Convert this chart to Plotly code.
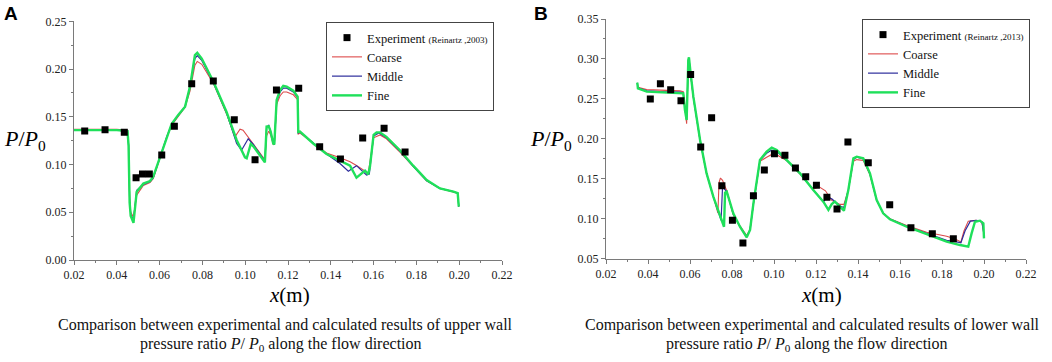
import plotly.graph_objects as go

# ---------------- Panel A (upper wall) ----------------
a_exp_x = [0.025, 0.0345, 0.0435, 0.049, 0.052, 0.0552, 0.061, 0.0669, 0.075, 0.0851, 0.0949,
           0.1046, 0.1146, 0.125, 0.1348, 0.1445, 0.1549, 0.1649, 0.1747]
a_exp_y = [0.135, 0.1365, 0.1337, 0.0862, 0.090, 0.090, 0.110, 0.140, 0.1847, 0.1875, 0.147,
           0.105, 0.178, 0.180, 0.1187, 0.1058, 0.1278, 0.138, 0.1131]

a_fine_x = [0.020, 0.030, 0.040, 0.0450, 0.0455, 0.0460, 0.0465, 0.0478, 0.0493, 0.0524, 0.0555,
            0.0570, 0.0602, 0.0633, 0.0656, 0.0687, 0.0719, 0.0742, 0.0765, 0.0776, 0.0797, 0.0851,
            0.0913, 0.0960, 0.0999, 0.1007, 0.1026, 0.1038, 0.1085, 0.1092, 0.1100, 0.1110, 0.1119,
            0.1131, 0.1136, 0.1147, 0.1163, 0.1178, 0.1194, 0.1225, 0.1245, 0.1248, 0.1256, 0.1318,
            0.1380, 0.1443, 0.1490, 0.1520, 0.1544, 0.1560, 0.1575, 0.1583, 0.1600, 0.1614, 0.1630,
            0.1660, 0.1723, 0.1785, 0.1848, 0.1910, 0.1973, 0.1993, 0.1998]
a_fine_y = [0.136, 0.136, 0.136, 0.135, 0.120, 0.060, 0.046, 0.039, 0.0716, 0.080, 0.0827,
            0.087, 0.108, 0.129, 0.1425, 0.152, 0.1606, 0.1816, 0.2147, 0.217, 0.211, 0.187,
            0.155, 0.1257, 0.1075, 0.1065, 0.1215, 0.119, 0.105, 0.1023, 0.1397, 0.140, 0.1344,
            0.122, 0.121, 0.1676, 0.178, 0.1823, 0.1816, 0.1774, 0.171, 0.134, 0.1344, 0.122,
            0.111, 0.104, 0.0988, 0.0862, 0.0908, 0.0936, 0.0897, 0.0978, 0.131, 0.1337, 0.1337,
            0.129, 0.115, 0.0988, 0.0838, 0.075, 0.0716, 0.070, 0.0559]

a_mid_x = [0.020, 0.030, 0.040, 0.0450, 0.0455, 0.0460, 0.0465, 0.0478, 0.0493, 0.0524, 0.0555,
           0.0570, 0.0602, 0.0633, 0.0656, 0.0687, 0.0719, 0.0742, 0.0765, 0.0776, 0.0797, 0.0851,
           0.0913, 0.0960, 0.0983, 0.1014, 0.1038, 0.1085, 0.1092, 0.1100, 0.1110, 0.1119,
           0.1131, 0.1136, 0.1147, 0.1163, 0.1178, 0.1194, 0.1225, 0.1245, 0.1248, 0.1256, 0.1318,
           0.1380, 0.1443, 0.1482, 0.1520, 0.1567, 0.1580, 0.1600, 0.1625, 0.1660, 0.1723, 0.1785,
           0.1848, 0.1910, 0.1973, 0.1993, 0.1998]
a_mid_y = [0.136, 0.136, 0.136, 0.135, 0.120, 0.062, 0.048, 0.042, 0.073, 0.079, 0.082,
           0.086, 0.108, 0.129, 0.142, 0.152, 0.161, 0.181, 0.211, 0.214, 0.209, 0.186,
           0.154, 0.122, 0.115, 0.127, 0.121, 0.106, 0.104, 0.139, 0.141, 0.134,
           0.122, 0.121, 0.166, 0.176, 0.180, 0.180, 0.176, 0.170, 0.133, 0.134, 0.122,
           0.111, 0.101, 0.093, 0.0988, 0.089, 0.090, 0.130, 0.133, 0.128, 0.114, 0.098,
           0.083, 0.075, 0.0716, 0.070, 0.0559]

a_coarse_x = [0.020, 0.030, 0.040, 0.0450, 0.0455, 0.0460, 0.0465, 0.0478, 0.0493, 0.0524, 0.0555,
              0.0570, 0.0602, 0.0633, 0.0656, 0.0687, 0.0719, 0.0742, 0.0765, 0.0776, 0.0797, 0.0851,
              0.0913, 0.0952, 0.0976, 0.0990, 0.1038, 0.1085, 0.1092, 0.1100, 0.1110, 0.1119,
              0.1131, 0.1136, 0.1147, 0.1163, 0.1178, 0.1194, 0.1225, 0.1245, 0.1248, 0.1256, 0.1318,
              0.1380, 0.1443, 0.1490, 0.1520, 0.1575, 0.1600, 0.1630, 0.1660, 0.1723, 0.1785,
              0.1848, 0.1910, 0.1973, 0.1993, 0.1998]
a_coarse_y = [0.137, 0.137, 0.137, 0.136, 0.122, 0.065, 0.050, 0.045, 0.068, 0.078, 0.081,
              0.085, 0.107, 0.128, 0.141, 0.151, 0.160, 0.177, 0.204, 0.208, 0.205, 0.185,
              0.153, 0.129, 0.137, 0.136, 0.121, 0.106, 0.105, 0.130, 0.135, 0.131,
              0.121, 0.121, 0.163, 0.172, 0.176, 0.176, 0.173, 0.168, 0.132, 0.133, 0.122,
              0.112, 0.107, 0.103, 0.099, 0.091, 0.128, 0.131, 0.127, 0.113, 0.098,
              0.083, 0.075, 0.0716, 0.070, 0.0559]

# ---------------- Panel B (lower wall) ----------------
b_exp_x = [0.0411, 0.0459, 0.0508, 0.0557, 0.0603, 0.0651, 0.0703, 0.0752, 0.0802, 0.0852, 0.0902,
           0.0954, 0.1002, 0.1052, 0.1102, 0.1151, 0.1202, 0.1252, 0.130, 0.1352, 0.1449, 0.1551,
           0.1652, 0.1754, 0.1854]
b_exp_y = [0.250, 0.2691, 0.2616, 0.2478, 0.2804, 0.1898, 0.2265, 0.1414, 0.098, 0.0696, 0.1289,
           0.161, 0.1815, 0.1794, 0.1635, 0.1527, 0.1418, 0.1268, 0.1122, 0.196, 0.1702, 0.1176,
           0.0888, 0.0813, 0.075]

b_fine_x = [0.0349, 0.0352, 0.0394, 0.0457, 0.0552, 0.0568, 0.0576, 0.0584, 0.0592, 0.0595, 0.0603,
            0.0616, 0.0648, 0.0679, 0.0711, 0.0743, 0.0762, 0.0767, 0.0775, 0.0806, 0.0838, 0.0870,
            0.0886, 0.0902, 0.0917, 0.0933, 0.0965, 0.0989, 0.1013, 0.1060, 0.1124, 0.1187, 0.1235,
            0.1259, 0.1275, 0.1290, 0.1314, 0.1333, 0.1354, 0.1378, 0.1394, 0.1425, 0.1457, 0.1489,
            0.1520, 0.1552, 0.1632, 0.1727, 0.1822, 0.1886, 0.1925, 0.1941, 0.1957, 0.1981, 0.1997,
            0.2000]
b_fine_y = [0.2704, 0.2633, 0.2591, 0.2583, 0.2579, 0.257, 0.236, 0.2236, 0.2987, 0.302, 0.282,
            0.2528, 0.1986, 0.1568, 0.1276, 0.1026, 0.090, 0.1326, 0.1339, 0.1068, 0.090, 0.0767,
            0.0859, 0.1193, 0.1485, 0.1735, 0.184, 0.189, 0.186, 0.1735, 0.1568, 0.136, 0.1214,
            0.111, 0.1184, 0.1214, 0.1151, 0.1101, 0.136, 0.1756, 0.1777, 0.1756, 0.1568, 0.1234,
            0.1068, 0.0993, 0.090, 0.0805, 0.0713, 0.0671, 0.065, 0.0817, 0.0963, 0.0976, 0.0942,
            0.0755]

b_mid_x = [0.0349, 0.0352, 0.0394, 0.0457, 0.0552, 0.0568, 0.0576, 0.0584, 0.0592, 0.0595, 0.0603,
           0.0616, 0.0648, 0.0679, 0.0711, 0.0743, 0.0748, 0.0755, 0.0775, 0.0806, 0.0838, 0.0870,
           0.0886, 0.0902, 0.0917, 0.0933, 0.0965, 0.0989, 0.1013, 0.1060, 0.1124, 0.1187, 0.1235,
           0.1252, 0.1275, 0.1314, 0.1333, 0.1354, 0.1378, 0.1394, 0.1425, 0.1457, 0.1489,
           0.1520, 0.1552, 0.1632, 0.1727, 0.1822, 0.1870, 0.1890, 0.1910, 0.1935, 0.1965, 0.1990,
           0.2000]
b_mid_y = [0.2700, 0.2640, 0.2600, 0.2590, 0.2585, 0.2575, 0.237, 0.2240, 0.2980, 0.301, 0.281,
           0.2520, 0.1980, 0.1565, 0.1275, 0.1000, 0.098, 0.140, 0.134, 0.106, 0.090, 0.0775,
           0.0860, 0.1190, 0.1480, 0.1730, 0.182, 0.186, 0.184, 0.1730, 0.1565, 0.136, 0.121,
           0.127, 0.125, 0.116, 0.114, 0.136, 0.174, 0.177, 0.175, 0.156, 0.123,
           0.107, 0.0995, 0.0905, 0.0815, 0.073, 0.071, 0.070, 0.085, 0.097, 0.098, 0.096,
           0.080]

b_coarse_x = [0.0349, 0.0352, 0.0394, 0.0457, 0.0552, 0.0568, 0.0576, 0.0584, 0.0592, 0.0595, 0.0603,
              0.0616, 0.0648, 0.0679, 0.0711, 0.0733, 0.0738, 0.0745, 0.0755, 0.0775, 0.0806, 0.0838,
              0.0870, 0.0886, 0.0902, 0.0917, 0.0933, 0.0965, 0.1000, 0.1060, 0.1124, 0.1187, 0.1215,
              0.1245, 0.1275, 0.1314, 0.1333, 0.1354, 0.1378, 0.1394, 0.1425, 0.1457, 0.1489,
              0.1520, 0.1552, 0.1632, 0.1727, 0.1822, 0.1860, 0.1890, 0.1905, 0.1925, 0.1960, 0.1990,
              0.2000]
b_coarse_y = [0.2700, 0.2645, 0.2616, 0.2610, 0.2600, 0.2590, 0.235, 0.2190, 0.2980, 0.300, 0.280,
              0.2520, 0.1980, 0.1565, 0.128, 0.107, 0.145, 0.151, 0.148, 0.135, 0.105, 0.091,
              0.079, 0.087, 0.118, 0.146, 0.172, 0.177, 0.182, 0.173, 0.156, 0.137, 0.140,
              0.135, 0.123, 0.118, 0.118, 0.136, 0.172, 0.174, 0.173, 0.155, 0.123,
              0.107, 0.100, 0.0915, 0.083, 0.078, 0.075, 0.071, 0.085, 0.097, 0.098, 0.096,
              0.080]

# ---------------- styles ----------------
C_COARSE = "#dd4a4a"
C_MID = "#2d2d9c"
C_FINE = "#1fe05a"
SERIF = "Liberation Serif"

fig = go.Figure()


def add_panel(xa, ya, leg, exp_x, exp_y, cx, cy, mx, my, fx, fy, ref):
    fig.add_trace(go.Scatter(x=cx, y=cy, mode="lines", name="Coarse", legend=leg, legendrank=2,
                             line=dict(color=C_COARSE, width=1.1), xaxis=xa, yaxis=ya))
    fig.add_trace(go.Scatter(x=mx, y=my, mode="lines", name="Middle", legend=leg, legendrank=3,
                             line=dict(color=C_MID, width=1.2), xaxis=xa, yaxis=ya))
    fig.add_trace(go.Scatter(x=fx, y=fy, mode="lines", name="Fine", legend=leg, legendrank=4,
                             line=dict(color=C_FINE, width=2.4), xaxis=xa, yaxis=ya))
    fig.add_trace(go.Scatter(x=exp_x, y=exp_y, mode="markers", legend=leg, legendrank=1,
                             name="Experiment <span style='font-size:9px'>(" + ref + ")</span>",
                             marker=dict(symbol="square", size=7, color="black"),
                             xaxis=xa, yaxis=ya))


add_panel("x", "y", "legend", a_exp_x, a_exp_y, a_coarse_x, a_coarse_y, a_mid_x, a_mid_y,
          a_fine_x, a_fine_y, "Reinartz ,2003")
add_panel("x2", "y2", "legend2", b_exp_x, b_exp_y, b_coarse_x, b_coarse_y, b_mid_x, b_mid_y,
          b_fine_x, b_fine_y, "Reinartz ,2013")

W, H = 1052, 362

axis_common = dict(showline=True, linecolor="#7a7a7a", linewidth=1, ticks="outside", ticklen=4,
                   tickcolor="#7a7a7a", showgrid=False, zeroline=False, tickformat=".2f",
                   automargin=False,
                   tickfont=dict(family=SERIF, size=12, color="#222"))

leg_common = dict(bgcolor="white", bordercolor="#444444", borderwidth=1,
                  font=dict(family=SERIF, size=12.5, color="#111"),
                  xanchor="right", yanchor="top", tracegroupgap=0, itemwidth=30)

fig.update_layout(
    width=W, height=H, autosize=False,
    margin=dict(l=0, r=0, t=0, b=0, pad=0, autoexpand=False),
    paper_bgcolor="white", plot_bgcolor="white",
    showlegend=True,
    font=dict(family=SERIF),
    xaxis=dict(domain=[74 / W, 502 / W], range=[0.02, 0.22], dtick=0.02, anchor="y",
               minor=dict(dtick=0.01, ticks="outside", ticklen=2, tickcolor="#7a7a7a"), **axis_common),
    yaxis=dict(domain=[1 - 260 / H, 1 - 21.3 / H], range=[0, 0.25], dtick=0.05, anchor="x",
               minor=dict(dtick=0.025, ticks="outside", ticklen=2, tickcolor="#7a7a7a"), **axis_common),
    xaxis2=dict(domain=[606 / W, 1026 / W], range=[0.02, 0.22], dtick=0.02, anchor="y2",
                minor=dict(dtick=0.01, ticks="outside", ticklen=2, tickcolor="#7a7a7a"), **axis_common),
    yaxis2=dict(domain=[1 - 258.7 / H, 1 - 19 / H], range=[0.05, 0.35], dtick=0.05, anchor="x2",
                minor=dict(dtick=0.025, ticks="outside", ticklen=2, tickcolor="#7a7a7a"), **axis_common),
    legend=dict(x=494 / W, y=1 - 22 / H, **leg_common),
    legend2=dict(x=1030 / W, y=1 - 19 / H, **leg_common),
)

ann = []
ann.append(dict(text="<b>A</b>", x=2 / W, y=1 - 1 / H, xanchor="left", yanchor="top",
                font=dict(family="Liberation Sans", size=19, color="black")))
ann.append(dict(text="<b>B</b>", x=532 / W, y=1 - 1 / H, xanchor="left", yanchor="top",
                font=dict(family="Liberation Sans", size=19, color="black")))
for cx_ in (25, 551):
    ann.append(dict(text="<i>P</i>/<i>P</i><sub>0</sub>", x=cx_ / W, y=1 - 140 / H,
                    xanchor="center", yanchor="middle",
                    font=dict(family=SERIF, size=22, color="black")))
for cx_ in (289, 821):
    ann.append(dict(text="<i>x</i>(m)", x=cx_ / W, y=1 - 295 / H, xanchor="center", yanchor="middle",
                    font=dict(family=SERIF, size=21, color="black")))
cap = [("upper", 285, 281), ("lower", 812, 807)]
for word, c1, c2 in cap:
    ann.append(dict(text="Comparison between experimental and calculated results of " + word + " wall",
                    x=c1 / W, y=1 - 325 / H, xanchor="center", yanchor="middle",
                    font=dict(family=SERIF, size=16, color="#111")))
    ann.append(dict(text="pressure ratio <i>P</i>/ <i>P</i><sub>0</sub> along the flow direction",
                    x=c2 / W, y=1 - 344 / H, xanchor="center", yanchor="middle",
                    font=dict(family=SERIF, size=16, color="#111")))
for a in ann:
    a.update(xref="paper", yref="paper", showarrow=False)
fig.update_layout(annotations=ann)

fig.write_html("out.html",
               config={"displayModeBar": False},
               post_script="document.body.style.margin='0';document.body.style.padding='0';"
                           "document.body.style.overflow='hidden';")
